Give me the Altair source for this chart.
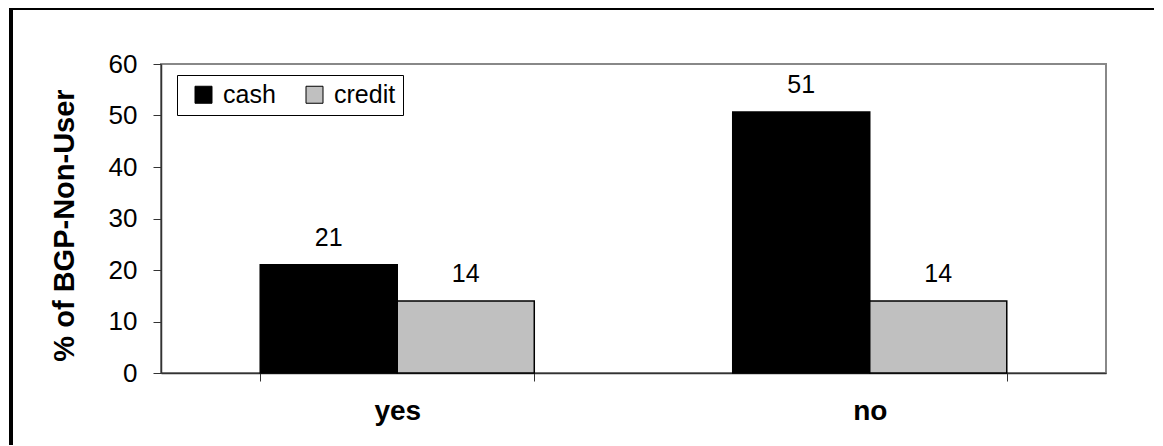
import altair as alt
import pandas as pd

answers = ["yes", "yes", "no", "no"]
methods = ["cash", "credit", "cash", "credit"]
values = [21.0, 14.0, 50.7, 14.0]
categories = ["yes", "no"]
series = ["cash", "credit"]
colors = ["#000000", "#C0C0C0"]
y_ticks = [0, 10, 20, 30, 40, 50, 60]

df = pd.DataFrame({"answer": answers, "method": methods, "value": values})

FONT = "Liberation Sans"

x_enc = alt.X(
    "answer:N",
    sort=categories,
    scale=alt.Scale(paddingInner=0.42, paddingOuter=0.21),
    axis=alt.Axis(
        title=None,
        labelAngle=0,
        labelFont=FONT,
        labelFontSize=28,
        labelFontWeight="bold",
        labelColor="#000000",
        labelPadding=16,
        tickBand="extent",
        tickSize=8,
        tickColor="#333333",
        domainColor="#333333",
        domainWidth=1.5,
    ),
)
xoff_enc = alt.XOffset(
    "method:N", sort=series, scale=alt.Scale(paddingInner=0, paddingOuter=0)
)
y_enc = alt.Y(
    "value:Q",
    scale=alt.Scale(domain=[0, 60], nice=False),
    axis=alt.Axis(
        values=y_ticks,
        grid=False,
        tickSize=8,
        tickColor="#333333",
        domainColor="#333333",
        domainWidth=1.5,
        labelFont=FONT,
        labelFontSize=26,
        labelColor="#000000",
        labelPadding=16,
        title="% of BGP-Non-User",
        titleFont=FONT,
        titleFontSize=29,
        titleFontWeight="bold",
        titleColor="#000000",
        titleAngle=270,
        titleX=-88,
        titleY=161,
        titleBaseline="alphabetic",
        titleAlign="center",
    ),
)

bars = alt.Chart(df).mark_bar(stroke="#000000", strokeWidth=1.5).encode(
    x=x_enc,
    xOffset=xoff_enc,
    y=y_enc,
    color=alt.Color(
        "method:N",
        sort=series,
        scale=alt.Scale(domain=series, range=colors),
        legend=alt.Legend(
            title=None,
            orient="none",
            legendX=16,
            legendY=11,
            direction="horizontal",
            strokeColor="#000000",
            fillColor="#FFFFFF",
            padding=7,
            symbolType="square",
            symbolSize=289,
            symbolStrokeColor="#000000",
            symbolStrokeWidth=1,
            symbolOffset=7,
            labelFont=FONT,
            labelFontSize=25,
            labelColor="#000000",
            labelOffset=7,
            columnPadding=19,
            labelLimit=300,
        ),
    ),
)

labels = alt.Chart(df).mark_text(
    font=FONT, fontSize=25, color="#000000", baseline="alphabetic", dy=-19
).encode(
    x=x_enc,
    xOffset=xoff_enc,
    y=alt.Y("value:Q"),
    text=alt.Text("value:Q", format=".0f"),
)

frame = alt.Chart(alt.Data(values=[{"a": 1}])).mark_rect(
    fillOpacity=0, stroke="#000000", strokeWidth=4
).encode(
    x=alt.value(-150),
    x2=alt.value(1100),
    y=alt.value(-56),
    y2=alt.value(450),
)

chart = (
    alt.layer(bars, labels, frame)
    .properties(
        width=945,
        height=309,
        autosize=alt.AutoSizeParams(type="none"),
        padding={"left": 153, "top": 56, "right": 48, "bottom": 72},
        background="#FFFFFF",
    )
    .configure_view(stroke="#888888", strokeWidth=2)
)

chart.save("out.html", embed_options={"renderer": "svg", "actions": False})
